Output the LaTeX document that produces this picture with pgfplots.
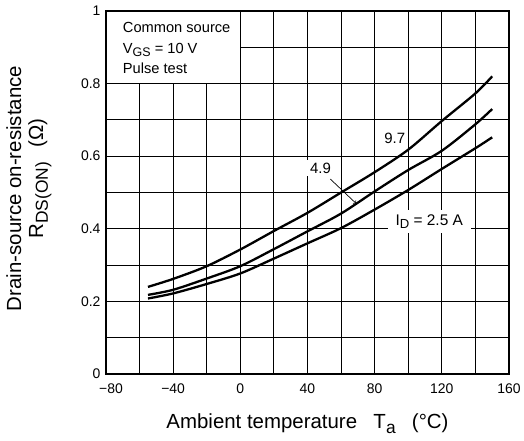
\documentclass[border=0pt]{standalone}
\usepackage{fontspec}
\setmainfont{Liberation Sans}
\usepackage{graphicx}
\usepackage{pgfplots}
\pgfplotsset{compat=1.18}
\usepackage{pgfplotstable}

\newcommand{\sub}[1]{\raisebox{-0.45ex}{\scalebox{0.85}{#1}}}

% R_DS(ON) vs ambient temperature, one table per drain current
\pgfplotstableread{
x y
-55 0.240
-40 0.262
-20 0.297
0 0.343
20 0.394
40 0.444
60 0.500
80 0.556
100 0.618
120 0.697
140 0.773
150 0.820
}\idhigh
\pgfplotstableread{
x y
-55 0.218
-40 0.232
-20 0.263
0 0.297
20 0.344
40 0.393
60 0.442
80 0.503
100 0.562
120 0.615
140 0.688
150 0.730
}\idmid
\pgfplotstableread{
x y
-55 0.208
-40 0.222
-20 0.248
0 0.277
20 0.318
40 0.360
60 0.402
80 0.453
100 0.507
120 0.565
140 0.622
150 0.652
}\idlow

\begin{document}
\begin{tikzpicture}
\useasboundingbox (-106bp,-67bp) rectangle (418bp,374bp);
\begin{axis}[
  at={(0,0)}, anchor=south west,
  scale only axis, width=403bp, height=363bp,
  xmin=-80, xmax=160, ymin=0, ymax=1,
  /pgf/number format/assume math mode=true,
  xtick={-80,-40,0,40,80,120,160},
  xticklabels={\hspace{10bp}−80,−40,0,40,80,120,160},
  minor xtick={-60,-20,20,60,100,140},
  ytick={0,0.2,0.4,0.6,0.8,1},
  yticklabels={0,0.2,0.4,0.6,0.8,1},
  minor ytick={0.1,0.3,0.5,0.7,0.9},
  grid=both,
  major grid style={black, line width=0.9bp},
  minor grid style={black, line width=0.9bp},
  major tick length=0, minor tick length=0,
  axis line style={line width=1.8bp},
  tick label style={font=\fontsize{14}{16}\selectfont},
  xticklabel style={yshift=-6bp},
  yticklabel style={xshift=-2bp},
  label style={font=\fontsize{20.5}{22}\selectfont},
  xlabel={Ambient temperature\hspace{0.8em}T\sub{a}\hspace{0.8em}(°C)},
  xlabel style={at={([yshift=-50bp]axis description cs:0.5,0)}, anchor=center},
  ylabel={Drain-source on-resistance\\\hspace*{20bp}R\sub{DS(ON)}\hspace{0.7em}(Ω)},
  ylabel style={at={([xshift=-77bp]axis description cs:0,0.511)}, anchor=center, align=center},
]
% condition box
\fill[white] (axis cs:-80,0.8) rectangle (axis cs:0,1);
\draw[line width=0.9bp] (axis cs:-80,0.8) -| (axis cs:0,1);
\draw[line width=1.8bp] (axis cs:-80,0.8) |- (axis cs:0,1);
\node[anchor=west, align=left, font=\fontsize{14.7}{21}\selectfont] at (axis cs:-72,0.898)
  {Common source\\V\sub{GS} = 10 V\\Pulse test};

\addplot[black, line width=2.3bp, smooth] table {\idhigh};
\addplot[black, line width=2.3bp, smooth] table {\idmid};
\addplot[black, line width=2.3bp, smooth] table {\idlow};

\node[font=\fontsize{15}{17}\selectfont, fill=white, inner sep=1.5bp] at (axis cs:92,0.649) {9.7};
\node[font=\fontsize{15}{17}\selectfont, fill=white, inner xsep=3bp, inner ysep=3bp] at (axis cs:47.7,0.567) {4.9};
\draw[->, line width=0.7bp] (axis cs:53.6,0.537) -- (axis cs:68.9,0.470);
\node[font=\fontsize{15.5}{17}\selectfont, fill=white, inner xsep=8bp, inner ysep=4bp] at (axis cs:112.5,0.42) {I\sub{D} = 2.5 A};
\end{axis}
\end{tikzpicture}
\end{document}
